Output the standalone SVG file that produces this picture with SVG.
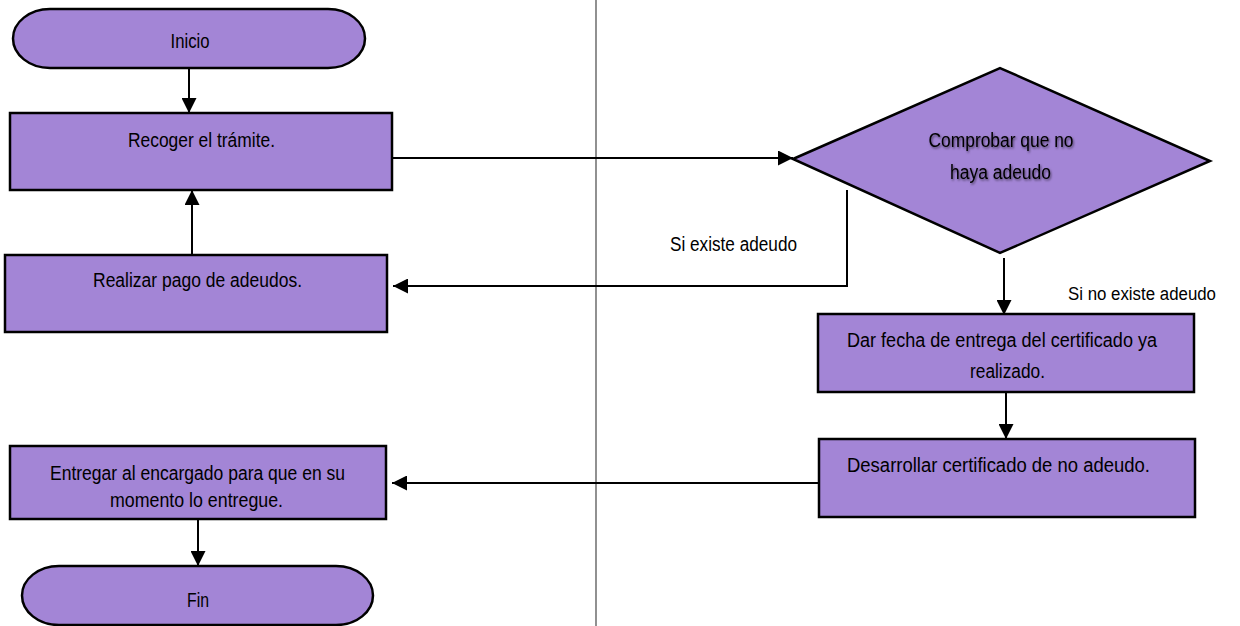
<svg xmlns="http://www.w3.org/2000/svg" width="1240" height="626" viewBox="0 0 1240 626">
<style>
.n{fill:#A385D6;stroke:#000;stroke-width:2.5}
.t{font-family:"Liberation Sans",Arial,sans-serif;font-size:20px;fill:#000;text-anchor:middle}
.l{font-family:"Liberation Sans",Arial,sans-serif;font-size:20px;fill:#000}
.c{fill:none;stroke:#000;stroke-width:2}
</style>
<defs>
<marker id="ah" markerWidth="15" markerHeight="15" refX="15" refY="7.5" orient="auto" markerUnits="userSpaceOnUse"><path d="M0,0 L15,7.5 L0,15 z" fill="#000"/></marker>
<filter id="sh" x="-10%" y="-30%" width="120%" height="160%"><feDropShadow dx="1" dy="1.5" stdDeviation="1.2" flood-color="#000" flood-opacity="0.55"/></filter>
</defs>
<rect width="1240" height="626" fill="#fff"/>
<line x1="596" y1="0" x2="596" y2="626" stroke="#555" stroke-width="1.3"/>
<g id="connectors">
<line class="c" x1="189" y1="68" x2="189" y2="113" marker-end="url(#ah)"/>
<line class="c" x1="387" y1="158" x2="793" y2="158" marker-end="url(#ah)"/>
<polyline class="c" points="847,190 847,286 393,286" marker-end="url(#ah)"/>
<line class="c" x1="192" y1="255" x2="192" y2="190" marker-end="url(#ah)"/>
<line class="c" x1="1004" y1="258" x2="1004" y2="315" marker-end="url(#ah)"/>
<line class="c" x1="1006" y1="392" x2="1006" y2="439" marker-end="url(#ah)"/>
<line class="c" x1="819" y1="483" x2="392" y2="483" marker-end="url(#ah)"/>
<line class="c" x1="198" y1="519" x2="198" y2="566" marker-end="url(#ah)"/>
<text class="l" x="670" y="251" textLength="127" lengthAdjust="spacingAndGlyphs">Si existe adeudo</text>
<text class="l" x="1068" y="300" font-size="18" style="font-size:18px" textLength="148" lengthAdjust="spacingAndGlyphs">Si no existe adeudo</text>
</g>
<g id="inicio">
<rect class="n" x="13" y="9" width="352" height="59" rx="37" ry="29.5"/>
<text class="t" x="190" y="48" textLength="39" lengthAdjust="spacingAndGlyphs">Inicio</text>
</g>
<g id="recoger">
<rect class="n" x="10" y="113" width="382" height="77"/>
<text class="t" x="201.5" y="147" textLength="147" lengthAdjust="spacingAndGlyphs">Recoger el trámite.</text>
</g>
<g id="comprobar">
<polygon class="n" points="793,159 1000,68 1210,161 1000,253" stroke-width="2.2"/>
<g filter="url(#sh)">
<text class="t" x="1001" y="147" textLength="145" lengthAdjust="spacingAndGlyphs">Comprobar que no</text>
<text class="t" x="1000.5" y="179" textLength="101" lengthAdjust="spacingAndGlyphs">haya adeudo</text>
</g>
</g>
<g id="realizar">
<rect class="n" x="5" y="255" width="382" height="77"/>
<text class="t" x="197.5" y="287" textLength="209" lengthAdjust="spacingAndGlyphs">Realizar pago de adeudos.</text>
</g>
<g id="dar">
<rect class="n" x="818" y="314" width="376" height="78"/>
<text class="t" x="1002" y="347" textLength="310" lengthAdjust="spacingAndGlyphs">Dar fecha de entrega del certificado ya</text>
<text class="t" x="1007.5" y="378" textLength="75" lengthAdjust="spacingAndGlyphs">realizado.</text>
</g>
<g id="desarrollar">
<rect class="n" x="819" y="439" width="376" height="78"/>
<text class="t" x="998.5" y="472" textLength="303" lengthAdjust="spacingAndGlyphs">Desarrollar certificado de no adeudo.</text>
</g>
<g id="entregar">
<rect class="n" x="10" y="446" width="376" height="73"/>
<text class="t" x="197.5" y="480" textLength="295" lengthAdjust="spacingAndGlyphs">Entregar al encargado para que en su</text>
<text class="t" x="196.5" y="507" textLength="173" lengthAdjust="spacingAndGlyphs">momento lo entregue.</text>
</g>
<g id="fin">
<rect class="n" x="22" y="566" width="351" height="59" rx="37" ry="29.5"/>
<text class="t" x="198" y="607" textLength="22" lengthAdjust="spacingAndGlyphs">Fin</text>
</g>
</svg>
